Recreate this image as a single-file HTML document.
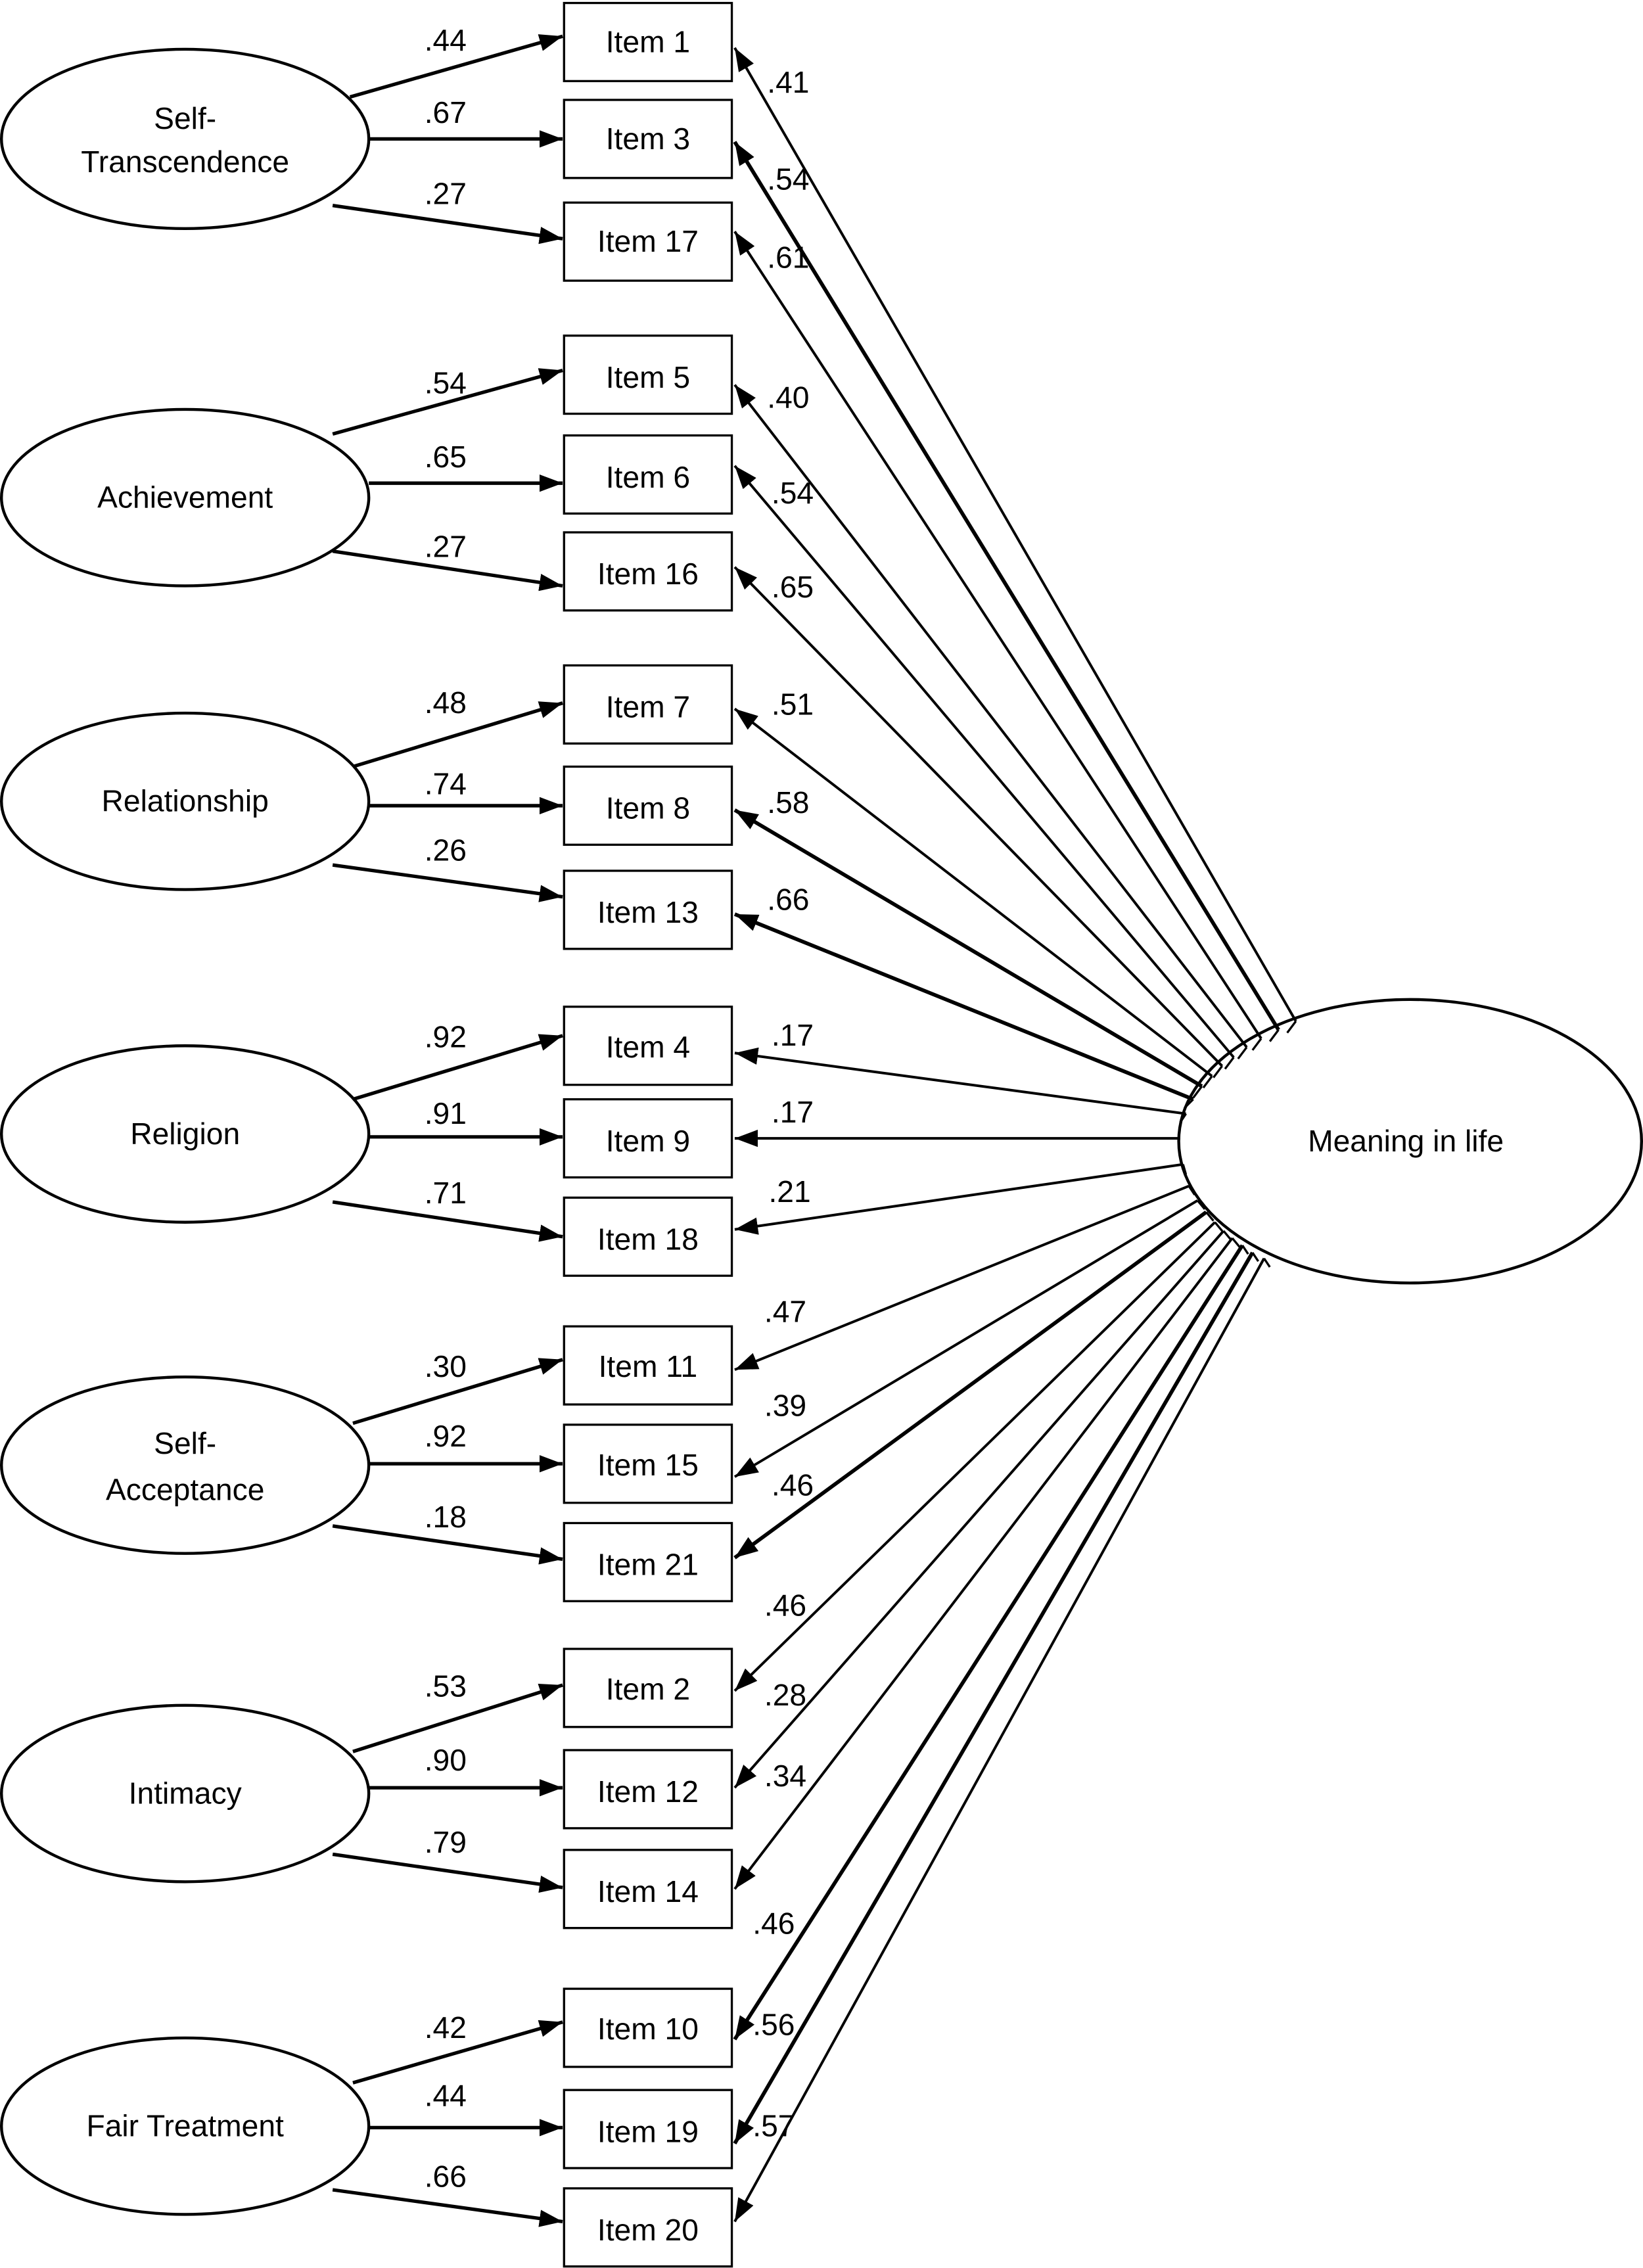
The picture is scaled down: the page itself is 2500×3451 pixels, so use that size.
<!DOCTYPE html>
<html><head><meta charset="utf-8"><style>html,body{margin:0;padding:0;background:#fff}svg{display:block}</style></head>
<body>
<svg width="2500" height="3451" viewBox="0 0 1136 1568" xmlns="http://www.w3.org/2000/svg" font-family="Liberation Sans, Arial, sans-serif" font-size="21">
<defs><marker id="a" viewBox="0 0 16 12" refX="16" refY="6" markerWidth="16" markerHeight="12" markerUnits="userSpaceOnUse" orient="auto"><path d="M0,0L16,6L0,12z" fill="#000"/></marker></defs>
<rect width="1136" height="1568" fill="#fff"/>
<g fill="none" stroke="#000" stroke-width="2">
<ellipse cx="128" cy="96" rx="127" ry="62"/>
<ellipse cx="128" cy="344" rx="127" ry="61"/>
<ellipse cx="128" cy="554" rx="127" ry="61"/>
<ellipse cx="128" cy="784" rx="127" ry="61"/>
<ellipse cx="128" cy="1013" rx="127" ry="61"/>
<ellipse cx="128" cy="1240" rx="127" ry="61"/>
<ellipse cx="128" cy="1470" rx="127" ry="61"/>
<ellipse cx="975" cy="789" rx="160" ry="98"/>
</g>
<g fill="#fff" stroke="#000" stroke-width="1.5">
<rect x="390" y="2" width="116" height="54"/><rect x="390" y="69" width="116" height="54"/><rect x="390" y="140" width="116" height="54"/>
<rect x="390" y="232" width="116" height="54"/><rect x="390" y="301" width="116" height="54"/><rect x="390" y="368" width="116" height="54"/>
<rect x="390" y="460" width="116" height="54"/><rect x="390" y="530" width="116" height="54"/><rect x="390" y="602" width="116" height="54"/>
<rect x="390" y="696" width="116" height="54"/><rect x="390" y="760" width="116" height="54"/><rect x="390" y="828" width="116" height="54"/>
<rect x="390" y="917" width="116" height="54"/><rect x="390" y="985" width="116" height="54"/><rect x="390" y="1053" width="116" height="54"/>
<rect x="390" y="1140" width="116" height="54"/><rect x="390" y="1210" width="116" height="54"/><rect x="390" y="1279" width="116" height="54"/>
<rect x="390" y="1375" width="116" height="54"/><rect x="390" y="1445" width="116" height="54"/><rect x="390" y="1513" width="116" height="54"/>
</g>
<g stroke="#000" stroke-width="2.4" marker-end="url(#a)">
<line x1="242" y1="67" x2="389" y2="25"/><line x1="255" y1="96" x2="389" y2="96"/><line x1="230" y1="142" x2="389" y2="165"/>
<line x1="230" y1="300" x2="389" y2="256"/><line x1="255" y1="334" x2="389" y2="334"/><line x1="230" y1="381" x2="389" y2="405"/>
<line x1="244" y1="530" x2="389" y2="486"/><line x1="255" y1="557" x2="389" y2="557"/><line x1="230" y1="598" x2="389" y2="620"/>
<line x1="244" y1="760" x2="389" y2="716"/><line x1="255" y1="786" x2="389" y2="786"/><line x1="230" y1="831" x2="389" y2="855"/>
<line x1="244" y1="984" x2="389" y2="940"/><line x1="255" y1="1012" x2="389" y2="1012"/><line x1="230" y1="1055" x2="389" y2="1078"/>
<line x1="244" y1="1211" x2="389" y2="1165"/><line x1="255" y1="1236" x2="389" y2="1236"/><line x1="230" y1="1282" x2="389" y2="1305"/>
<line x1="244" y1="1440" x2="389" y2="1398"/><line x1="255" y1="1471" x2="389" y2="1471"/><line x1="230" y1="1514" x2="389" y2="1536"/>
</g>
<g stroke="#000" stroke-width="1.8" marker-end="url(#a)">
<line x1="896" y1="706" x2="508" y2="33"/>
<line x1="884" y1="712" x2="508" y2="98" stroke-width="2.6"/>
<line x1="872" y1="718" x2="508" y2="160"/>
<line x1="862" y1="724" x2="508" y2="266"/>
<line x1="853" y1="731" x2="508" y2="322"/>
<line x1="845" y1="737" x2="508" y2="392"/>
<line x1="838" y1="744" x2="508" y2="490"/>
<line x1="831" y1="751" x2="508" y2="560" stroke-width="2.6"/>
<line x1="825" y1="760" x2="508" y2="632" stroke-width="2.6"/>
<line x1="820" y1="770" x2="508" y2="728"/>
<line x1="816" y1="787" x2="508" y2="787"/>
<line x1="818" y1="805" x2="508" y2="850"/>
<line x1="822" y1="820" x2="508" y2="947"/>
<line x1="828" y1="830" x2="508" y2="1021"/>
<line x1="834" y1="838" x2="508" y2="1077" stroke-width="2.6"/>
<line x1="840" y1="845" x2="508" y2="1169"/>
<line x1="846" y1="851" x2="508" y2="1236"/>
<line x1="852" y1="856" x2="508" y2="1306"/>
<line x1="859" y1="861" x2="508" y2="1410" stroke-width="2.6"/>
<line x1="866" y1="866" x2="508" y2="1482" stroke-width="2.6"/>
<line x1="874" y1="870" x2="508" y2="1536"/>
</g>
<g stroke="#000" stroke-width="1.5">
<line x1="896" y1="706" x2="890" y2="714"/><line x1="884" y1="712" x2="878" y2="720"/><line x1="872" y1="718" x2="866" y2="726"/>
<line x1="862" y1="724" x2="856" y2="732"/><line x1="853" y1="731" x2="847" y2="739"/><line x1="845" y1="737" x2="839" y2="745"/>
<line x1="838" y1="744" x2="832" y2="752"/><line x1="831" y1="751" x2="825" y2="759"/><line x1="825" y1="760" x2="819" y2="766"/>
<line x1="820" y1="770" x2="816" y2="776"/><line x1="818" y1="805" x2="820" y2="812"/><line x1="822" y1="820" x2="826" y2="826"/>
<line x1="828" y1="830" x2="833" y2="836"/><line x1="834" y1="838" x2="839" y2="844"/><line x1="840" y1="845" x2="845" y2="851"/>
<line x1="846" y1="851" x2="851" y2="857"/><line x1="852" y1="856" x2="857" y2="862"/><line x1="859" y1="861" x2="863" y2="867"/>
<line x1="866" y1="866" x2="870" y2="872"/><line x1="874" y1="870" x2="878" y2="876"/>
</g>
<g text-anchor="middle">
<text x="128" y="89">Self-</text><text x="128" y="119">Transcendence</text>
<text x="128" y="351">Achievement</text><text x="128" y="561">Relationship</text><text x="128" y="791">Religion</text>
<text x="128" y="1005">Self-</text><text x="128" y="1037">Acceptance</text>
<text x="128" y="1247">Intimacy</text><text x="128" y="1477">Fair Treatment</text>
<text x="972" y="796">Meaning in life</text>
<text x="448" y="36">Item 1</text><text x="448" y="103">Item 3</text><text x="448" y="174">Item 17</text>
<text x="448" y="268">Item 5</text><text x="448" y="337">Item 6</text><text x="448" y="404">Item 16</text>
<text x="448" y="496">Item 7</text><text x="448" y="566">Item 8</text><text x="448" y="638">Item 13</text>
<text x="448" y="731">Item 4</text><text x="448" y="796">Item 9</text><text x="448" y="864">Item 18</text>
<text x="448" y="952">Item 11</text><text x="448" y="1020">Item 15</text><text x="448" y="1089">Item 21</text>
<text x="448" y="1175">Item 2</text><text x="448" y="1246">Item 12</text><text x="448" y="1315">Item 14</text>
<text x="448" y="1410">Item 10</text><text x="448" y="1481">Item 19</text><text x="448" y="1549">Item 20</text>
<text x="308" y="35">.44</text><text x="308" y="85">.67</text><text x="308" y="141">.27</text>
<text x="308" y="272">.54</text><text x="308" y="323">.65</text><text x="308" y="385">.27</text>
<text x="308" y="493">.48</text><text x="308" y="549">.74</text><text x="308" y="595">.26</text>
<text x="308" y="724">.92</text><text x="308" y="777">.91</text><text x="308" y="832">.71</text>
<text x="308" y="952">.30</text><text x="308" y="1000">.92</text><text x="308" y="1056">.18</text>
<text x="308" y="1173">.53</text><text x="308" y="1224">.90</text><text x="308" y="1281">.79</text>
<text x="308" y="1409">.42</text><text x="308" y="1456">.44</text><text x="308" y="1512">.66</text>
<text x="545" y="64">.41</text><text x="545" y="131">.54</text><text x="545" y="185">.61</text>
<text x="545" y="282">.40</text><text x="548" y="348">.54</text><text x="548" y="413">.65</text>
<text x="548" y="494">.51</text><text x="545" y="562">.58</text><text x="545" y="629">.66</text>
<text x="548" y="723">.17</text><text x="548" y="776">.17</text><text x="546" y="831">.21</text>
<text x="543" y="914">.47</text><text x="543" y="979">.39</text><text x="548" y="1034">.46</text>
<text x="543" y="1117">.46</text><text x="543" y="1179">.28</text><text x="543" y="1235">.34</text>
<text x="535" y="1337">.46</text><text x="535" y="1407">.56</text><text x="535" y="1477">.57</text>
</g>
</svg>
</body></html>
